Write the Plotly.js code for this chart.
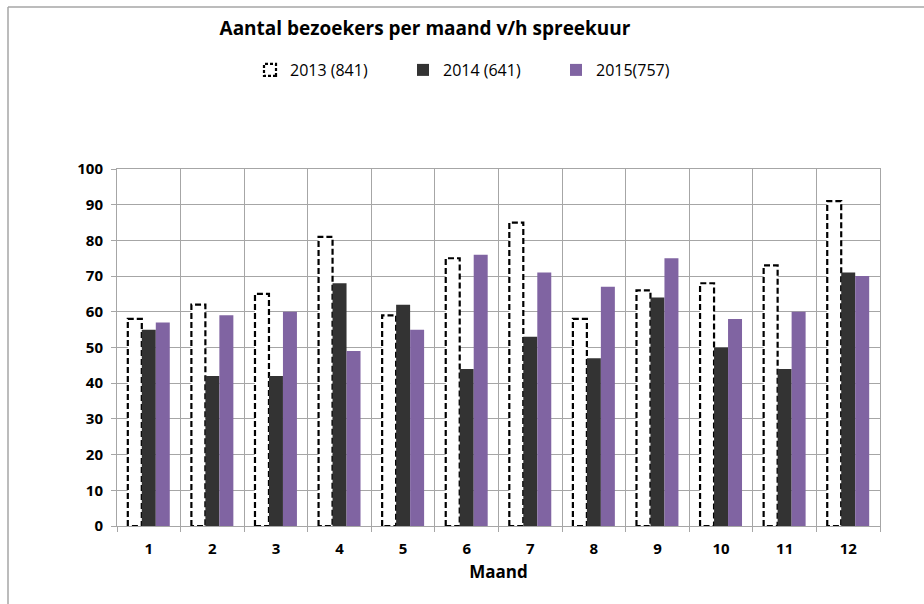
<!DOCTYPE html>
<html>
<head>
<meta charset="utf-8">
<script src="https://cdn.plot.ly/plotly-3.0.1.min.js"></script>
<style>
  html, body { margin: 0; padding: 0; background: #fff; }
  #chart { width: 924px; height: 604px; }
  .barlayer .trace.bars:first-child path { stroke-dasharray: 6px, 3px !important; }
  .legend .traces:first-child .legendpoints path { stroke-dasharray: 3px, 2px !important; }
</style>
</head>
<body>
<div id="chart"></div>
<script>
const months = [1,2,3,4,5,6,7,8,9,10,11,12];
const monthLabels = ['1','2','3','4','5','6','7','8','9','10','11','12'];
const series2013 = [58,62,65,81,59,75,85,58,66,68,73,91];
const series2014 = [55,42,42,68,62,44,53,47,64,50,44,71];
const series2015 = [57,59,60,49,55,76,71,67,75,58,60,70];
const seriesNames = ['2013 (841)', '2014 (641)', '2015(757)'];
const yTicks = [0,10,20,30,40,50,60,70,80,90,100];
const boundaries = [0.5,1.5,2.5,3.5,4.5,5.5,6.5,7.5,8.5,9.5,10.5,11.5,12.5];

const FONT = '"Open Sans", "Noto Sans", sans-serif';
const GRID = '#a6a6a6';

const traces = [
  { type: 'bar', name: seriesNames[0], x: months, y: series2013,
    marker: { color: '#ffffff', line: { color: '#000000', width: 2.2 } }, hoverinfo: 'y' },
  { type: 'bar', name: seriesNames[1], x: months, y: series2014,
    marker: { color: '#333333', line: { width: 0 } }, hoverinfo: 'y' },
  { type: 'bar', name: seriesNames[2], x: months, y: series2015,
    marker: { color: '#8064a2', line: { width: 0 } }, hoverinfo: 'y' }
];

const L = 117, R = 44, T = 169, B = 78;
const PW = 924 - L - R, PH = 604 - T - B;

const layout = {
  width: 924, height: 604,
  margin: { l: L, r: R, t: T, b: B, pad: 0 },
  paper_bgcolor: '#ffffff', plot_bgcolor: '#ffffff',
  font: { family: FONT, color: '#000000' },
  barmode: 'group', bargap: 0.34, bargroupgap: 0,
  title: { text: '<b>Aantal bezoekers per maand v/h spreekuur</b>',
    font: { family: FONT, size: 19, color: '#000' },
    xref: 'container', yref: 'container', x: 425/924, xanchor: 'center', y: 1 - 28/604, yanchor: 'middle' },
  showlegend: true,
  legend: { orientation: 'h', x: (250 - L)/PW, xanchor: 'left', y: 1 + (T - 70)/PH, yanchor: 'middle',
    font: { family: FONT, size: 16, color: '#000' }, entrywidth: 108, entrywidthmode: 'pixels',
    itemwidth: 30, traceorder: 'normal', bgcolor: 'rgba(0,0,0,0)' },
  xaxis: {
    range: [0.5, 12.5], tickmode: 'array', tickvals: months, ticktext: monthLabels,
    ticks: '', showgrid: false, zeroline: false,
    showline: true, linecolor: GRID, linewidth: 1, mirror: true,
    tickfont: { family: FONT, size: 15, color: '#000', weight: 'bold' },
    ticklabelstandoff: 9,
    minor: { tickmode: 'array', tickvals: boundaries, ticks: 'outside', ticklen: 5, tickcolor: GRID,
      showgrid: true, gridcolor: GRID, gridwidth: 1 },
    title: { text: '<b>Maand</b>', font: { family: FONT, size: 17, color: '#000' }, standoff: 9 },
    fixedrange: true
  },
  yaxis: {
    range: [0, 100], tickmode: 'array', tickvals: yTicks,
    ticks: 'outside', ticklen: 5, tickcolor: GRID,
    showgrid: true, gridcolor: GRID, gridwidth: 1, zeroline: false,
    showline: true, linecolor: GRID, linewidth: 1, mirror: true,
    tickfont: { family: FONT, size: 15, color: '#000', weight: 'bold' },
    ticklabelstandoff: 5,
    fixedrange: true
  },
  shapes: [
    { type: 'line', xref: 'paper', yref: 'paper',
      x0: (8 - L)/PW, x1: (930 - L)/PW, y0: 1 + (T - 7)/PH, y1: 1 + (T - 7)/PH,
      line: { color: '#a6a6a6', width: 1.5 } },
    { type: 'line', xref: 'paper', yref: 'paper',
      x0: (8 - L)/PW, x1: (8 - L)/PW, y0: 1 + (T - 7)/PH, y1: -(610 - 604 + B)/PH,
      line: { color: '#a6a6a6', width: 1.5 } }
  ]
};

Plotly.newPlot('chart', traces, layout, { displayModeBar: false, staticPlot: true });
</script>
</body>
</html>
